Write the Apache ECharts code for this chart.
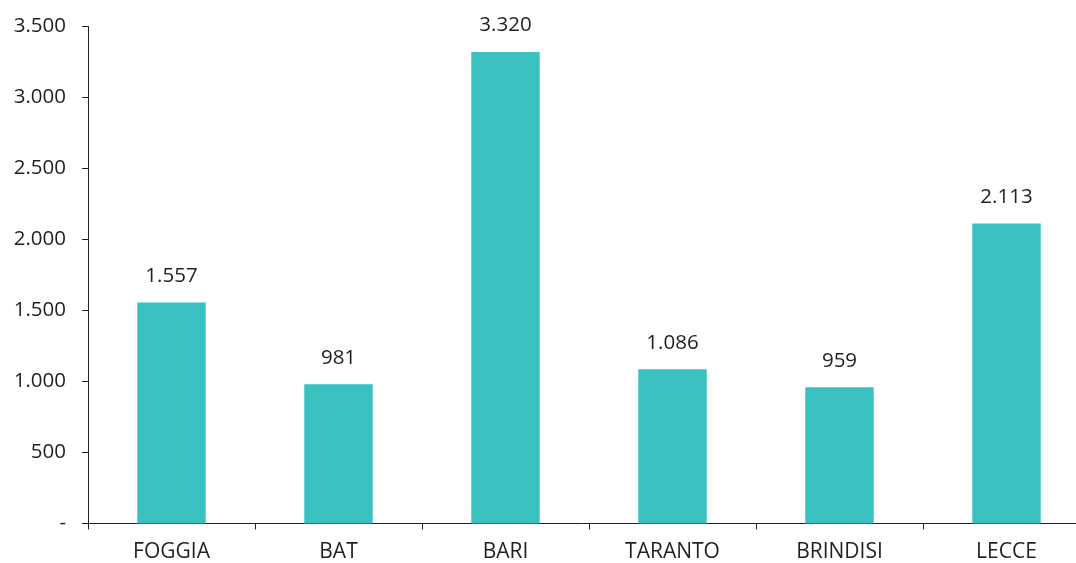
<!DOCTYPE html>
<html><head><meta charset="utf-8">
<script src="https://cdn.jsdelivr.net/npm/echarts@6/dist/echarts.min.js"></script>
<style>html,body{margin:0;padding:0;background:#fff}#c{width:1076px;height:563px}</style>
</head><body><div id="c"></div>
<script>
const categories = ['FOGGIA','BAT','BARI','TARANTO','BRINDISI','LECCE'];
const values = [1557, 981, 3320, 1086, 959, 2113];
const yTicks = [0, 500, 1000, 1500, 2000, 2500, 3000, 3500];

function fmt(v){
  if (v === 0) return '-';
  return String(v).replace(/\B(?=(\d{3})+(?!\d))/g, '.');
}
const txt = '#231F20';
const font = '"Open Sans", "Noto Sans", sans-serif';
const chart = echarts.init(document.getElementById('c'), null, {renderer:'canvas'});
chart.setOption({
  animation:false,
  grid:{left:88, top:26.5, right:-14, bottom:39.5, containLabel:false, outerBoundsMode:'none'},
  xAxis:{
    type:'category', data:categories,
    axisLine:{lineStyle:{color:txt, width:1}},
    axisTick:{show:true, length:6, alignWithLabel:false, lineStyle:{color:txt}},
    axisLabel:{color:txt, fontSize:21, fontFamily:font, margin:18}
  },
  yAxis:{
    type:'value', min:yTicks[0], max:yTicks[yTicks.length-1], interval:500,
    splitLine:{show:false},
    axisLine:{show:true, lineStyle:{color:txt, width:1}},
    axisTick:{show:true, length:6, lineStyle:{color:txt}},
    axisLabel:{color:txt, fontSize:20.5, fontFamily:font, margin:22, formatter:fmt}
  },
  series:[{
    type:'bar', data:values, barWidth:'41%',
    itemStyle:{color:'#3CC1C1'},
    label:{show:true, position:'top', distance:16, color:txt, fontSize:20.5, fontFamily:font, formatter:p=>fmt(p.value)}
  }]
});
</script></body></html>
